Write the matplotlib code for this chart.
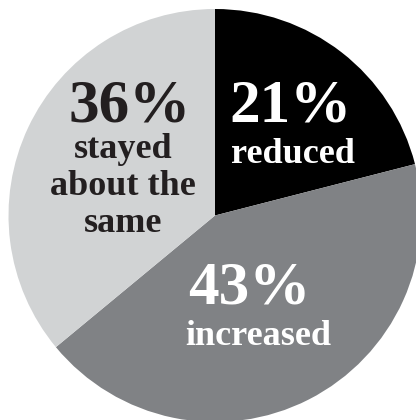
import matplotlib.pyplot as plt

# survey shares, clockwise from 12 o'clock
shares = [21, 43, 36]
pcts = ['21%', '43%', '36%']
descr = [['reduced'], ['increased'], ['stayed', 'about the', 'same']]
colors = ['#000000', '#808285', '#d1d3d4']
txt_colors = ['white', 'white', '#231f20']

W, H = 416, 420
fig = plt.figure(figsize=(W / 100, H / 100), dpi=100)
ax = fig.add_axes([0, 0, 1, 1])

cx, cy, r = 215, H - 215.5, 206.5
ax.pie(shares, colors=colors, startangle=90, counterclock=False,
       center=(cx, cy), radius=r, frame=True,
       wedgeprops=dict(linewidth=0))
ax.set_xlim(0, W)
ax.set_ylim(0, H)
ax.set_aspect('equal')
ax.axis('off')

font = 'Liberation Serif'
# big percentage baseline, then description baselines (pixels from top-left)
pct_pos = [(291, 122), (249, 304), (130, 122)]
desc_x = [293, 258, 123]
desc_y = [[163], [345], [158, 195, 232]]
for i in range(3):
    px, py = pct_pos[i]
    ax.text(px, H - py, pcts[i], color=txt_colors[i], family=font,
            fontweight='bold', fontsize=44, ha='center', va='baseline')
    for line, ly in zip(descr[i], desc_y[i]):
        ax.text(desc_x[i], H - ly, line, color=txt_colors[i], family=font,
                fontweight='bold', fontsize=26, ha='center', va='baseline')

fig.savefig('out.png', dpi=100)
